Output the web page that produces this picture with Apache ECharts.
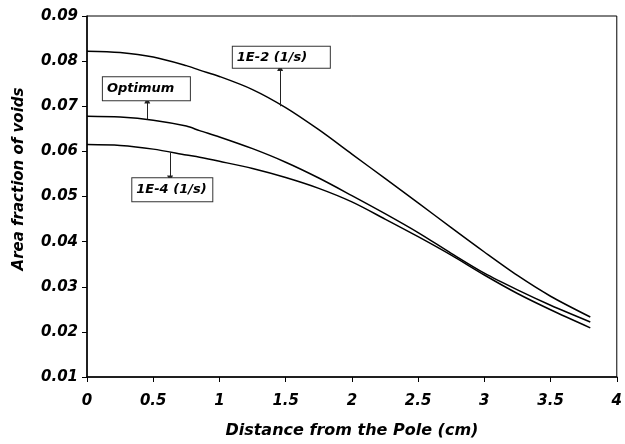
<!DOCTYPE html>
<html>
<head>
<meta charset="utf-8">
<script src="https://cdn.jsdelivr.net/npm/echarts@6/dist/echarts.min.js"></script>
<style>
  html, body { margin: 0; padding: 0; background: #fff; }
  #chart { width: 625px; height: 444px; }
</style>
</head>
<body>
<div id="chart"></div>
<script>
// distance from the pole (cm)
const xs = [0, 0.25, 0.5, 0.75, 0.85, 1.0, 1.25, 1.5, 1.75, 2.0, 2.25, 2.5, 2.75, 3.0, 3.25, 3.5, 3.8];

// area fraction of voids
const rateHigh = [0.0822, 0.0819, 0.0809, 0.0790, 0.0780, 0.0766, 0.0737, 0.0697, 0.0648, 0.0594, 0.0540, 0.0486, 0.0431, 0.0377, 0.0325, 0.0279, 0.0233];
const optimum  = [0.0678, 0.0676, 0.0669, 0.0656, 0.0646, 0.0632, 0.0606, 0.0576, 0.0541, 0.0502, 0.0462, 0.0420, 0.0374, 0.0330, 0.0293, 0.0259, 0.0222];
const rateLow  = [0.0615, 0.0613, 0.0605, 0.0592, 0.0587, 0.0578, 0.0562, 0.0542, 0.0518, 0.0488, 0.0450, 0.0411, 0.0370, 0.0326, 0.0285, 0.0249, 0.0209];

const seriesNames = ["1E-2 (1/s)", "Optimum", "1E-4 (1/s)"];

// callout boxes: top-left corner in data units, then arrow [x, yFrom, yTo]
const boxCorners = [[1.101, 0.08317], [0.12, 0.07641], [0.342, 0.05403]];
const boxSizes = [[89, 15], [79, 17], [72, 17]];
const arrows = [[1.458, 0.0700, 0.0785], [0.455, 0.0671, 0.0713], [0.627, 0.0598, 0.0540]];

const font = "DejaVu Sans, Verdana, sans-serif";

function pairs(ys) {
  return xs.map((x, i) => [x, ys[i]]);
}

function makeSeries(name, ys, i) {
  return {
    name: name,
    type: "line",
    data: pairs(ys),
    smooth: 0.3,
    showSymbol: false,
    lineStyle: { color: "#000", width: 1.5 },
    markLine: {
      silent: true,
      symbol: ["none", "triangle"],
      symbolSize: [6, 6],
      label: { show: false },
      lineStyle: { color: "#222", width: 1, type: "solid" },
      data: [[
        { coord: [arrows[i][0], arrows[i][1]] },
        { coord: [arrows[i][0], arrows[i][2]] },
      ]],
    },
    markPoint: {
      silent: true,
      symbol: "rect",
      symbolSize: 0,
      data: [{ coord: boxCorners[i] }],
      label: {
        show: true,
        position: [0, 0],
        align: "left",
        verticalAlign: "top",
        formatter: name,
        color: "#000",
        fontFamily: font,
        fontSize: 13,
        fontWeight: "bold",
        fontStyle: "italic",
        backgroundColor: "#fff",
        borderColor: "#333",
        borderWidth: 1,
        padding: [3, 4, 3, 4],
        width: boxSizes[i][0],
        height: boxSizes[i][1],
        lineHeight: boxSizes[i][1],
      },
    },
  };
}

var myChart = echarts.init(document.getElementById("chart"));
let options = {
  animation: false,
  backgroundColor: "#fff",
  grid: {
    left: 87,
    right: 4,
    top: 16,
    bottom: 65,
    show: true,
    borderColor: "#000",
    borderWidth: 1,
  },
  xAxis: {
    type: "value",
    min: 0,
    max: 4,
    interval: 0.5,
    name: "Distance from the Pole (cm)",
    nameLocation: "middle",
    nameGap: 46,
    nameTextStyle: { color: "#000", fontFamily: font, fontSize: 16, fontWeight: "bold", fontStyle: "italic" },
    axisLine: { lineStyle: { color: "#000", width: 1.5 } },
    axisTick: { length: 5, lineStyle: { color: "#000" } },
    axisLabel: { color: "#000", fontFamily: font, fontSize: 15, fontWeight: "bold", fontStyle: "italic", margin: 17 },
    splitLine: { show: false },
  },
  yAxis: {
    type: "value",
    min: 0.01,
    max: 0.09,
    interval: 0.01,
    name: "Area fraction of voids",
    nameLocation: "middle",
    nameGap: 60,
    nameTextStyle: {
      color: "#000",
      fontFamily: font,
      fontSize: 15,
      fontWeight: "bold",
      fontStyle: "italic",
      padding: [0, 0, 0, 35],
    },
    axisLine: { lineStyle: { color: "#000", width: 1.5 } },
    axisTick: { length: 5, lineStyle: { color: "#000" } },
    axisLabel: {
      color: "#000",
      fontFamily: font,
      fontSize: 15,
      fontWeight: "bold",
      fontStyle: "italic",
      margin: 9,
      formatter: (v) => v.toFixed(2),
    },
    splitLine: { show: false },
  },
  series: [
    makeSeries(seriesNames[0], rateHigh, 0),
    makeSeries(seriesNames[1], optimum, 1),
    makeSeries(seriesNames[2], rateLow, 2),
  ],
};
myChart.setOption(options);
</script>
</body>
</html>
